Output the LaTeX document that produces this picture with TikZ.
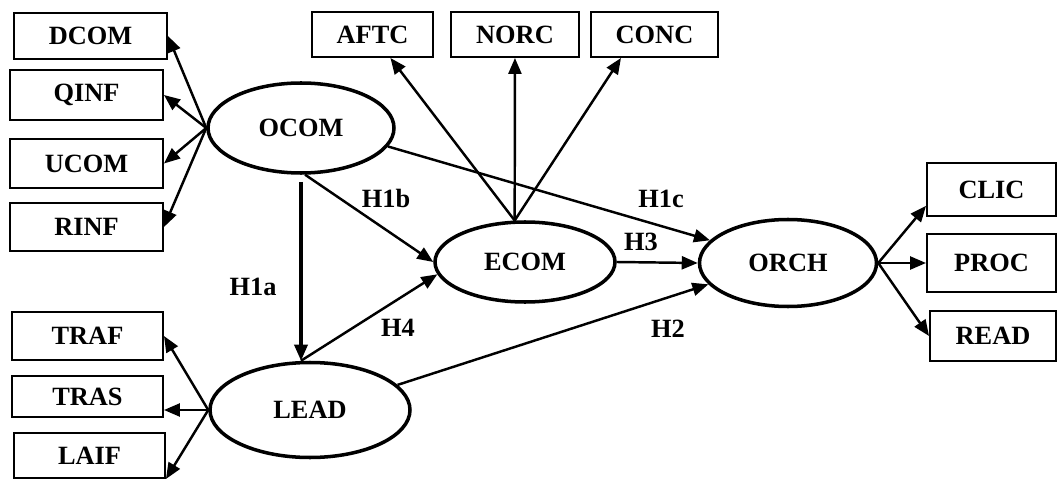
\documentclass[tikz,border=0pt]{standalone}
\usepackage{fontspec}
\setmainfont{Liberation Serif}
\usetikzlibrary{shapes.geometric,arrows.meta}
\begin{document}
\begin{tikzpicture}[
  font=\fontsize{15}{17}\selectfont\bfseries,
  >={Triangle[length=3.2mm,width=2.6mm]},
  ind/.style={draw,line width=1.1pt,inner sep=0pt},
  lat/.style={draw,ellipse,line width=2pt,inner sep=0pt},
  link/.style={->,line width=1.4pt},
  hyp/.style={inner sep=1pt}]
\useasboundingbox (0,0) rectangle (21.14,9.58);

% indicator boxes
\node[ind,minimum width=3.06cm,minimum height=0.92cm] (DCOM) at (1.81,8.86) {DCOM};
\node[ind,minimum width=3.06cm,minimum height=1.0cm] (QINF) at (1.73,7.68) {QINF};
\node[ind,minimum width=3.06cm,minimum height=0.98cm] (UCOM) at (1.73,6.31) {UCOM};
\node[ind,minimum width=3.06cm,minimum height=0.96cm] (RINF) at (1.73,5.04) {RINF};
\node[ind,minimum width=3.02cm,minimum height=0.96cm] (TRAF) at (1.75,2.86) {TRAF};
\node[ind,minimum width=3.02cm,minimum height=0.82cm] (TRAS) at (1.75,1.65) {TRAS};
\node[ind,minimum width=3.02cm,minimum height=0.9cm] (LAIF) at (1.79,0.47) {LAIF};
\node[ind,minimum width=2.42cm,minimum height=0.9cm] (AFTC) at (7.45,8.89) {AFTC};
\node[ind,minimum width=2.56cm,minimum height=0.9cm] (NORC) at (10.3,8.89) {NORC};
\node[ind,minimum width=2.54cm,minimum height=0.9cm] (CONC) at (13.09,8.89) {CONC};
\node[ind,minimum width=2.58cm,minimum height=1.06cm] (CLIC) at (19.83,5.79) {CLIC};
\node[ind,minimum width=2.58cm,minimum height=1.16cm] (PROC) at (19.83,4.32) {PROC};
\node[ind,minimum width=2.52cm,minimum height=1.0cm] (READ) at (19.86,2.86) {READ};

% latent variables
\node[lat,minimum width=3.72cm,minimum height=1.8cm] (OCOM) at (6.02,7.02) {OCOM};
\node[lat,minimum width=3.6cm,minimum height=1.6cm] (ECOM) at (10.5,4.34) {ECOM};
\node[lat,minimum width=3.54cm,minimum height=1.74cm] (ORCH) at (15.76,4.32) {ORCH};
\node[lat,minimum width=4.0cm,minimum height=1.9cm] (LEAD) at (6.2,1.38) {LEAD};

% outer loadings
\foreach \b in {DCOM,QINF,UCOM,RINF}
  \draw[link] (OCOM.west) -- (\b.east);
\draw[link] (LEAD.west) -- (TRAF.east);
\draw[link] (LEAD.west) -- (LEAD.west -| TRAS.east);
\draw[link] (LEAD.west) -- (LAIF.south east);
\draw[link] (ECOM.104) -- (AFTC);
\draw[link] (ECOM.104) -- (NORC);
\draw[link] (ECOM.104) -- (CONC.215);
\draw[link] (ORCH.east) -- (CLIC.194);
\draw[link] (ORCH.east) -- (PROC.west);
\draw[link] (ORCH.east) -- (READ.west);

% structural paths
\coordinate (ltop) at (OCOM.south |- LEAD.north);
\draw[link,line width=1.9pt,shorten <=1.4mm] (OCOM.south) -- (ltop);
\draw[link] (OCOM.-85) -- (ECOM.west);
\draw[link] (ltop) -- (ECOM.188);
\draw[link] (OCOM.-12) -- (ORCH);
\draw[link] (ECOM.east) -- (ORCH.west);
\draw[link] (LEAD.16) -- (ORCH.195);

\node[hyp] (h1a) at (5.06,3.84) {H1a};
\node[hyp] (h1b) at (7.72,5.62) {H1b};
\node[hyp] (h1c) at (13.22,5.6) {H1c};
\node[hyp] (h3) at (12.82,4.74) {H3};
\node[hyp] (h4) at (7.96,3.02) {H4};
\node[hyp] (h2) at (13.36,3.0) {H2};
\end{tikzpicture}
\end{document}
